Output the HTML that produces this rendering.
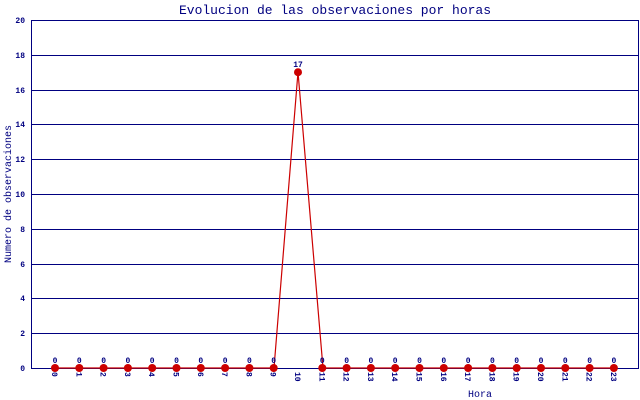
<!DOCTYPE html><html><head><style>body{margin:0;background:#fff}svg{display:block}text{font-family:"Liberation Mono",monospace;fill:#000080;font-weight:bold}</style></head><body>
<svg width="640" height="400" xmlns="http://www.w3.org/2000/svg">
<text x="335" y="14" font-size="13" text-anchor="middle" style="font-weight:normal">Evolucion de las observaciones por horas</text>
<g stroke="#000080" stroke-width="1" fill="none">
<path d="M31.5 20.5H638.5V368.5H31.5Z"/>
<path d="M31.5 55.5H638.5M31.5 90.5H638.5M31.5 124.5H638.5M31.5 159.5H638.5M31.5 194.5H638.5M31.5 229.5H638.5M31.5 264.5H638.5M31.5 298.5H638.5M31.5 333.5H638.5"/>
</g>
<g font-size="8" text-anchor="end">
<text x="25" y="23">20</text><text x="25" y="58">18</text><text x="25" y="93">16</text><text x="25" y="127">14</text><text x="25" y="162">12</text><text x="25" y="197">10</text><text x="25" y="232">8</text><text x="25" y="267">6</text><text x="25" y="301">4</text><text x="25" y="336">2</text><text x="25" y="371">0</text>
</g>
<text transform="translate(11,194) rotate(-90)" font-size="10" text-anchor="middle" style="font-weight:normal">Numero de observaciones</text>
<text x="480" y="397" font-size="10" text-anchor="middle" style="font-weight:normal">Hora</text>
<polyline fill="none" stroke="#cc0000" stroke-width="1.2" points="55,368 274,368 298,72 323,368 614,368"/>
<g id="pts" fill="#cc0000"></g>
<g id="lbl" font-size="8" text-anchor="middle"></g>
<g id="xl" font-size="8"></g>
<script>
var ns="http://www.w3.org/2000/svg",P=document.getElementById('pts'),L=document.getElementById('lbl'),X=document.getElementById('xl');
for(var i=0;i<24;i++){var x=55+i*24.3,v=i==10?17:0,y=368-v*17.4;
var c=document.createElementNS(ns,'circle');c.setAttribute('cx',x);c.setAttribute('cy',y);c.setAttribute('r',4);P.appendChild(c);
var t=document.createElementNS(ns,'text');t.setAttribute('x',x);t.setAttribute('y',y-5);t.textContent=v;L.appendChild(t);
var u=document.createElementNS(ns,'text');u.setAttribute('transform','translate('+(x-3)+',372) rotate(90)');u.textContent=i;X.appendChild(u);}
</script>
</svg></body></html>
